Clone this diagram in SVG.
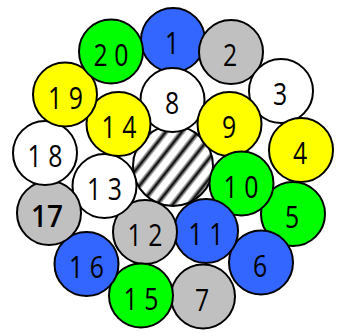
<svg xmlns="http://www.w3.org/2000/svg" width="337" height="336" viewBox="0 0 337 336">
<style>
.c{stroke:#000;stroke-width:2}
.g{fill:#00ff00}.b{fill:#3366ff}.s{fill:#c0c0c0}.y{fill:#ffff00}.w{fill:#fff}
text{font-family:"Open Sans","Noto Sans",sans-serif;font-size:31px;text-anchor:middle;fill:#000}
.bold{font-weight:600}
</style>
<defs>
<linearGradient id="hatch" gradientUnits="userSpaceOnUse" x1="3.07" y1="2.42" x2="12.97" y2="10.22" spreadMethod="repeat">
<stop offset="0" stop-color="#fff"/>
<stop offset="0.22" stop-color="#fff"/>
<stop offset="0.5" stop-color="#000"/>
<stop offset="0.78" stop-color="#fff"/>
<stop offset="1" stop-color="#fff"/>
</linearGradient>
</defs>
<rect width="337" height="336" fill="#fff"/>
<g id="core"><circle class="c" cx="173" cy="166" r="40" fill="url(#hatch)"/></g>
<g id="n1"><circle class="c b" cx="173" cy="40" r="32"/><text transform="translate(172,54) scale(0.8,1)">1</text></g>
<g id="n2"><circle class="c s" cx="231" cy="52" r="32"/><text transform="translate(230,66) scale(0.8,1)">2</text></g>
<g id="n3"><circle class="c w" cx="281" cy="91" r="32"/><text transform="translate(280,105) scale(0.8,1)">3</text></g>
<g id="n4"><circle class="c y" cx="301" cy="150" r="32"/><text transform="translate(300,164) scale(0.8,1)">4</text></g>
<g id="n5"><circle class="c g" cx="293" cy="214" r="32"/><text transform="translate(292,228) scale(0.8,1)">5</text></g>
<g id="n6"><circle class="c b" cx="261" cy="262.5" r="32"/><text transform="translate(260,276.5) scale(0.8,1)">6</text></g>
<g id="n7"><circle class="c s" cx="203" cy="296.5" r="32"/><text transform="translate(202,310.5) scale(0.8,1)">7</text></g>
<g id="n8"><circle class="c w" cx="172.5" cy="100" r="32"/><text transform="translate(172,114) scale(0.8,1)">8</text></g>
<g id="n9"><circle class="c y" cx="229.5" cy="124" r="32"/><text transform="translate(229,138) scale(0.8,1)">9</text></g>
<g id="n10"><circle class="c g" cx="241.5" cy="183.5" r="32"/><text transform="translate(241,197.5) scale(0.8,1)">1 0</text></g>
<g id="n11"><circle class="c b" cx="206" cy="231" r="32"/><text transform="translate(206,245) scale(0.8,1)">1 1</text></g>
<g id="n12"><circle class="c s" cx="145" cy="232" r="32"/><text transform="translate(145,246) scale(0.8,1)">1 2</text></g>
<g id="n13"><circle class="c w" cx="104.5" cy="186" r="32"/><text transform="translate(104.5,200) scale(0.8,1)">1 3</text></g>
<g id="n14"><circle class="c y" cx="118.5" cy="124" r="32"/><text transform="translate(119,138) scale(0.8,1)">1 4</text></g>
<g id="n15"><circle class="c g" cx="141" cy="295.5" r="32"/><text transform="translate(141,309.5) scale(0.8,1)">1 5</text></g>
<g id="n16"><circle class="c b" cx="86.5" cy="264" r="32"/><text transform="translate(86.5,278) scale(0.8,1)">1 6</text></g>
<g id="n17"><circle class="c s" cx="49" cy="213" r="32"/><text class="bold" transform="translate(47,227) scale(0.9,1)">17</text></g>
<g id="n18"><circle class="c w" cx="45" cy="153" r="32"/><text transform="translate(45,167) scale(0.8,1)">1 8</text></g>
<g id="n19"><circle class="c y" cx="65" cy="94.5" r="32"/><text transform="translate(65.5,108.5) scale(0.8,1)">1 9</text></g>
<g id="n20"><circle class="c g" cx="111" cy="51.5" r="32"/><text transform="translate(111,65.5) scale(0.8,1)">2 0</text></g>
<g id="connectors"></g>
</svg>
